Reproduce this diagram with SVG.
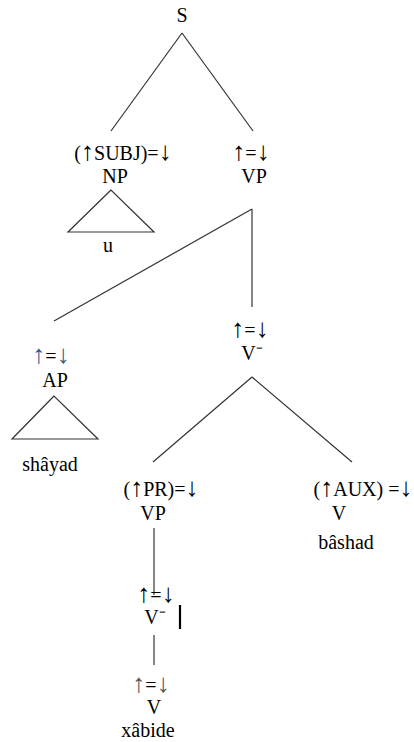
<svg xmlns="http://www.w3.org/2000/svg" width="414" height="742" viewBox="0 0 414 742">
<style>
text{font-family:"Liberation Serif","Times New Roman",serif;font-size:20px;fill:#000;text-anchor:middle}
.a{font-size:26px}
.e line{stroke:#333;stroke-width:1.2;fill:none}
.tri{fill:none;stroke:#333;stroke-width:1.2}
.blue{fill:#2e5d8f}
.gray{fill:#555}
</style>
<rect width="414" height="742" fill="#fff"/>
<g id="connectors" class="e">
<line x1="182" y1="33" x2="111" y2="131"/>
<line x1="182" y1="33" x2="253" y2="131"/>
<line x1="252" y1="209" x2="54" y2="321"/>
<line x1="252" y1="209" x2="252" y2="307"/>
<line x1="252" y1="377" x2="153" y2="462"/>
<line x1="252" y1="377" x2="352" y2="462"/>
<line x1="154" y1="528" x2="154" y2="595"/>
<line x1="154" y1="635" x2="154" y2="665"/>
</g>
<g id="S"><text x="182" y="22">S</text></g>
<g id="NP">
<text x="123" y="160">(<tspan class="a">↑</tspan>SUBJ)=<tspan class="a">↓</tspan></text>
<text x="115" y="183">NP</text>
<polygon class="tri" points="111,190 68,232 154,232"/>
<text x="108" y="252">u</text>
</g>
<g id="VP">
<text x="251" y="160"><tspan class="a">↑</tspan>=<tspan class="a">↓</tspan></text>
<text x="254" y="183">VP</text>
</g>
<g id="AP">
<text x="51" y="363"><tspan class="a blue">↑</tspan>=<tspan class="a blue">↓</tspan></text>
<text x="55" y="387">AP</text>
<polygon class="tri" points="54,396 12,439 98,439"/>
<text x="50" y="471">shâyad</text>
</g>
<g id="Vbar1">
<text x="250" y="337"><tspan class="a">↑</tspan>=<tspan class="a">↓</tspan></text>
<text x="252" y="360">V⁻</text>
</g>
<g id="VP2">
<text x="161" y="496">(<tspan class="a">↑</tspan>PR)=<tspan class="a">↓</tspan></text>
<text x="153" y="520">VP</text>
</g>
<g id="AUX">
<text x="363" y="496">(<tspan class="a">↑</tspan>AUX) =<tspan class="a">↓</tspan></text>
<text x="339" y="520">V</text>
<text x="346" y="549">bâshad</text>
</g>
<g id="Vbar2">
<text x="156" y="602"><tspan class="a">↑</tspan>=<tspan class="a">↓</tspan></text>
<text x="155" y="624">V⁻</text>
<line x1="180" y1="605" x2="180" y2="629" stroke="#000" stroke-width="2.2"/>
</g>
<g id="V">
<text x="151" y="692"><tspan class="a gray">↑</tspan>=<tspan class="a gray">↓</tspan></text>
<text x="154" y="714">V</text>
<text x="148" y="737">xâbide</text>
</g>
</svg>
